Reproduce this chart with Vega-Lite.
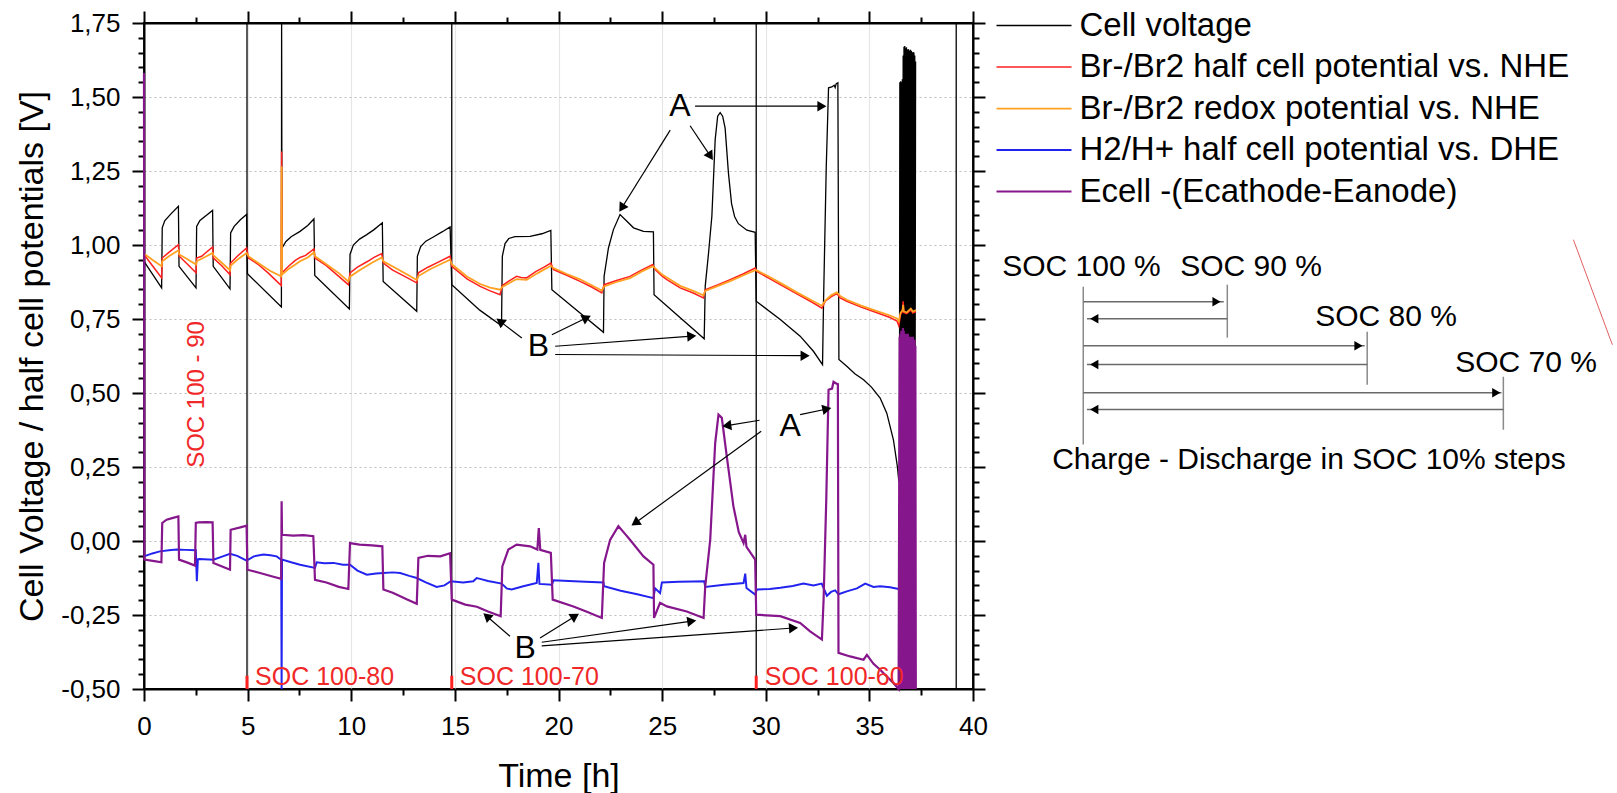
{
  "$schema": "https://vega.github.io/schema/vega-lite/v6.json",
  "width": 829,
  "height": 666,
  "autosize": "none",
  "padding": {"left": 144, "top": 23, "right": 644, "bottom": 104},
  "background": "white",
  "config": {
    "font": "Liberation Sans",
    "view": {"stroke": "black", "strokeWidth": 2},
    "axis": {"labelFont": "Liberation Sans", "titleFont": "Liberation Sans", "labelColor": "black", "titleColor": "black", "titleFontWeight": "normal"}
  },
  "resolve": {"axis": {"x": "independent", "y": "independent"}},
  "datasets": {
    "series": [
      {"s":"Cell voltage","t":0,"v":0.945},{"s":"Cell voltage","t":0.85,"v":0.855},{"s":"Cell voltage","t":0.88,"v":1.058},{"s":"Cell voltage","t":1.0,"v":1.082},{"s":"Cell voltage","t":1.3,"v":1.105},{"s":"Cell voltage","t":1.66,"v":1.131},{"s":"Cell voltage","t":1.69,"v":0.928},{"s":"Cell voltage","t":2.51,"v":0.855},{"s":"Cell voltage","t":2.54,"v":1.063},{"s":"Cell voltage","t":2.7,"v":1.083},{"s":"Cell voltage","t":3.0,"v":1.1},{"s":"Cell voltage","t":3.31,"v":1.117},{"s":"Cell voltage","t":3.34,"v":0.928},{"s":"Cell voltage","t":4.15,"v":0.852},{"s":"Cell voltage","t":4.18,"v":1.041},{"s":"Cell voltage","t":4.35,"v":1.063},{"s":"Cell voltage","t":4.65,"v":1.085},{"s":"Cell voltage","t":4.95,"v":1.103},{"s":"Cell voltage","t":4.99,"v":0.903},{"s":"Cell voltage","t":6.63,"v":0.791},{"s":"Cell voltage","t":6.64,"v":1.75},{"s":"Cell voltage","t":6.66,"v":0.99},{"s":"Cell voltage","t":6.85,"v":1.012},{"s":"Cell voltage","t":7.1,"v":1.028},{"s":"Cell voltage","t":7.53,"v":1.046},{"s":"Cell voltage","t":7.9,"v":1.066},{"s":"Cell voltage","t":8.2,"v":1.088},{"s":"Cell voltage","t":8.24,"v":0.897},{"s":"Cell voltage","t":9.91,"v":0.784},{"s":"Cell voltage","t":9.94,"v":0.968},{"s":"Cell voltage","t":10.1,"v":1.0},{"s":"Cell voltage","t":10.4,"v":1.02},{"s":"Cell voltage","t":10.75,"v":1.035},{"s":"Cell voltage","t":11.1,"v":1.052},{"s":"Cell voltage","t":11.5,"v":1.075},{"s":"Cell voltage","t":11.54,"v":0.877},{"s":"Cell voltage","t":13.16,"v":0.776},{"s":"Cell voltage","t":13.19,"v":0.962},{"s":"Cell voltage","t":13.35,"v":0.995},{"s":"Cell voltage","t":13.6,"v":1.013},{"s":"Cell voltage","t":13.96,"v":1.027},{"s":"Cell voltage","t":14.4,"v":1.045},{"s":"Cell voltage","t":14.77,"v":1.061},{"s":"Cell voltage","t":14.85,"v":0.866},{"s":"Cell voltage","t":16.2,"v":0.78},{"s":"Cell voltage","t":17.25,"v":0.727},{"s":"Cell voltage","t":17.29,"v":0.962},{"s":"Cell voltage","t":17.42,"v":1.005},{"s":"Cell voltage","t":17.6,"v":1.022},{"s":"Cell voltage","t":17.9,"v":1.028},{"s":"Cell voltage","t":18.63,"v":1.029},{"s":"Cell voltage","t":19.2,"v":1.038},{"s":"Cell voltage","t":19.63,"v":1.049},{"s":"Cell voltage","t":19.68,"v":0.849},{"s":"Cell voltage","t":22.17,"v":0.705},{"s":"Cell voltage","t":22.2,"v":0.894},{"s":"Cell voltage","t":22.41,"v":0.99},{"s":"Cell voltage","t":22.65,"v":1.052},{"s":"Cell voltage","t":22.97,"v":1.103},{"s":"Cell voltage","t":23.3,"v":1.08},{"s":"Cell voltage","t":23.62,"v":1.058},{"s":"Cell voltage","t":24.1,"v":1.046},{"s":"Cell voltage","t":24.58,"v":1.044},{"s":"Cell voltage","t":24.61,"v":0.832},{"s":"Cell voltage","t":27.03,"v":0.683},{"s":"Cell voltage","t":27.08,"v":0.861},{"s":"Cell voltage","t":27.24,"v":0.973},{"s":"Cell voltage","t":27.4,"v":1.097},{"s":"Cell voltage","t":27.56,"v":1.356},{"s":"Cell voltage","t":27.68,"v":1.435},{"s":"Cell voltage","t":27.8,"v":1.447},{"s":"Cell voltage","t":27.92,"v":1.435},{"s":"Cell voltage","t":28.04,"v":1.395},{"s":"Cell voltage","t":28.2,"v":1.243},{"s":"Cell voltage","t":28.35,"v":1.14},{"s":"Cell voltage","t":28.5,"v":1.095},{"s":"Cell voltage","t":28.68,"v":1.072},{"s":"Cell voltage","t":29.09,"v":1.05},{"s":"Cell voltage","t":29.49,"v":1.043},{"s":"Cell voltage","t":29.54,"v":0.81},{"s":"Cell voltage","t":30.7,"v":0.748},{"s":"Cell voltage","t":31.66,"v":0.692},{"s":"Cell voltage","t":32.3,"v":0.641},{"s":"Cell voltage","t":32.74,"v":0.596},{"s":"Cell voltage","t":32.79,"v":0.816},{"s":"Cell voltage","t":32.92,"v":1.266},{"s":"Cell voltage","t":33.03,"v":1.531},{"s":"Cell voltage","t":33.19,"v":1.534},{"s":"Cell voltage","t":33.3,"v":1.54},{"s":"Cell voltage","t":33.35,"v":1.532},{"s":"Cell voltage","t":33.4,"v":1.545},{"s":"Cell voltage","t":33.48,"v":1.548},{"s":"Cell voltage","t":33.53,"v":0.613},{"s":"Cell voltage","t":33.91,"v":0.59},{"s":"Cell voltage","t":34.3,"v":0.565},{"s":"Cell voltage","t":34.72,"v":0.545},{"s":"Cell voltage","t":35.1,"v":0.52},{"s":"Cell voltage","t":35.52,"v":0.483},{"s":"Cell voltage","t":35.84,"v":0.432},{"s":"Cell voltage","t":36.16,"v":0.342},{"s":"Cell voltage","t":36.35,"v":0.252},{"s":"Cell voltage","t":36.42,"v":0.202},
      {"s":"Cell voltage","t":36.45,"v":0.2},{"s":"Cell voltage","t":36.47,"v":1.55},{"s":"Cell voltage","t":36.49,"v":0.26},{"s":"Cell voltage","t":36.51,"v":1.553},{"s":"Cell voltage","t":36.53,"v":0.3},{"s":"Cell voltage","t":36.55,"v":1.55},{"s":"Cell voltage","t":36.57,"v":0.35},{"s":"Cell voltage","t":36.59,"v":1.56},{"s":"Cell voltage","t":36.61,"v":0.4},{"s":"Cell voltage","t":36.63,"v":1.64},{"s":"Cell voltage","t":36.65,"v":0.45},{"s":"Cell voltage","t":36.67,"v":1.67},{"s":"Cell voltage","t":36.69,"v":0.5},{"s":"Cell voltage","t":36.71,"v":1.672},{"s":"Cell voltage","t":36.73,"v":0.5},{"s":"Cell voltage","t":36.75,"v":1.665},{"s":"Cell voltage","t":36.77,"v":0.55},{"s":"Cell voltage","t":36.79,"v":1.668},{"s":"Cell voltage","t":36.81,"v":0.5},{"s":"Cell voltage","t":36.83,"v":1.66},{"s":"Cell voltage","t":36.85,"v":0.55},{"s":"Cell voltage","t":36.87,"v":1.662},{"s":"Cell voltage","t":36.89,"v":0.5},{"s":"Cell voltage","t":36.91,"v":1.66},{"s":"Cell voltage","t":36.93,"v":0.55},{"s":"Cell voltage","t":36.95,"v":1.655},{"s":"Cell voltage","t":36.97,"v":0.5},{"s":"Cell voltage","t":36.99,"v":1.66},{"s":"Cell voltage","t":37.01,"v":0.55},{"s":"Cell voltage","t":37.03,"v":1.655},{"s":"Cell voltage","t":37.05,"v":0.5},{"s":"Cell voltage","t":37.07,"v":1.65},{"s":"Cell voltage","t":37.09,"v":0.55},{"s":"Cell voltage","t":37.11,"v":1.652},{"s":"Cell voltage","t":37.13,"v":0.6},{"s":"Cell voltage","t":37.15,"v":1.65},{"s":"Cell voltage","t":37.17,"v":0.6},{"s":"Cell voltage","t":37.19,"v":1.64},{"s":"Cell voltage","t":37.21,"v":0.65},{"s":"Cell voltage","t":37.23,"v":1.62},

      {"s":"Br-/Br2 half cell potential vs. NHE","t":0,"v":0.968},{"s":"Br-/Br2 half cell potential vs. NHE","t":0.3,"v":0.94},{"s":"Br-/Br2 half cell potential vs. NHE","t":0.6,"v":0.912},{"s":"Br-/Br2 half cell potential vs. NHE","t":0.85,"v":0.889},{"s":"Br-/Br2 half cell potential vs. NHE","t":0.88,"v":0.956},{"s":"Br-/Br2 half cell potential vs. NHE","t":1.2,"v":0.975},{"s":"Br-/Br2 half cell potential vs. NHE","t":1.66,"v":1.001},{"s":"Br-/Br2 half cell potential vs. NHE","t":1.7,"v":0.962},{"s":"Br-/Br2 half cell potential vs. NHE","t":2.1,"v":0.935},{"s":"Br-/Br2 half cell potential vs. NHE","t":2.51,"v":0.906},{"s":"Br-/Br2 half cell potential vs. NHE","t":2.54,"v":0.956},{"s":"Br-/Br2 half cell potential vs. NHE","t":2.78,"v":0.962},{"s":"Br-/Br2 half cell potential vs. NHE","t":3.05,"v":0.978},{"s":"Br-/Br2 half cell potential vs. NHE","t":3.31,"v":0.993},{"s":"Br-/Br2 half cell potential vs. NHE","t":3.35,"v":0.956},{"s":"Br-/Br2 half cell potential vs. NHE","t":3.75,"v":0.93},{"s":"Br-/Br2 half cell potential vs. NHE","t":4.15,"v":0.9},{"s":"Br-/Br2 half cell potential vs. NHE","t":4.18,"v":0.939},{"s":"Br-/Br2 half cell potential vs. NHE","t":4.5,"v":0.962},{"s":"Br-/Br2 half cell potential vs. NHE","t":4.95,"v":0.99},{"s":"Br-/Br2 half cell potential vs. NHE","t":5.04,"v":0.956},{"s":"Br-/Br2 half cell potential vs. NHE","t":5.5,"v":0.935},{"s":"Br-/Br2 half cell potential vs. NHE","t":6.0,"v":0.905},{"s":"Br-/Br2 half cell potential vs. NHE","t":6.4,"v":0.878},{"s":"Br-/Br2 half cell potential vs. NHE","t":6.62,"v":0.863},{"s":"Br-/Br2 half cell potential vs. NHE","t":6.64,"v":1.316},{"s":"Br-/Br2 half cell potential vs. NHE","t":6.66,"v":0.906},{"s":"Br-/Br2 half cell potential vs. NHE","t":7.0,"v":0.93},{"s":"Br-/Br2 half cell potential vs. NHE","t":7.3,"v":0.948},{"s":"Br-/Br2 half cell potential vs. NHE","t":7.53,"v":0.958},{"s":"Br-/Br2 half cell potential vs. NHE","t":7.8,"v":0.965},{"s":"Br-/Br2 half cell potential vs. NHE","t":8.2,"v":0.987},{"s":"Br-/Br2 half cell potential vs. NHE","t":8.25,"v":0.956},{"s":"Br-/Br2 half cell potential vs. NHE","t":8.8,"v":0.93},{"s":"Br-/Br2 half cell potential vs. NHE","t":9.3,"v":0.9},{"s":"Br-/Br2 half cell potential vs. NHE","t":9.86,"v":0.866},{"s":"Br-/Br2 half cell potential vs. NHE","t":9.94,"v":0.906},{"s":"Br-/Br2 half cell potential vs. NHE","t":10.3,"v":0.925},{"s":"Br-/Br2 half cell potential vs. NHE","t":10.8,"v":0.945},{"s":"Br-/Br2 half cell potential vs. NHE","t":11.1,"v":0.958},{"s":"Br-/Br2 half cell potential vs. NHE","t":11.47,"v":0.971},{"s":"Br-/Br2 half cell potential vs. NHE","t":11.55,"v":0.939},{"s":"Br-/Br2 half cell potential vs. NHE","t":12.0,"v":0.915},{"s":"Br-/Br2 half cell potential vs. NHE","t":12.6,"v":0.893},{"s":"Br-/Br2 half cell potential vs. NHE","t":13.16,"v":0.872},{"s":"Br-/Br2 half cell potential vs. NHE","t":13.24,"v":0.906},{"s":"Br-/Br2 half cell potential vs. NHE","t":13.7,"v":0.925},{"s":"Br-/Br2 half cell potential vs. NHE","t":14.2,"v":0.942},{"s":"Br-/Br2 half cell potential vs. NHE","t":14.77,"v":0.962},{"s":"Br-/Br2 half cell potential vs. NHE","t":14.85,"v":0.928},{"s":"Br-/Br2 half cell potential vs. NHE","t":15.6,"v":0.885},{"s":"Br-/Br2 half cell potential vs. NHE","t":16.22,"v":0.86},{"s":"Br-/Br2 half cell potential vs. NHE","t":16.7,"v":0.845},{"s":"Br-/Br2 half cell potential vs. NHE","t":17.18,"v":0.832},{"s":"Br-/Br2 half cell potential vs. NHE","t":17.29,"v":0.863},{"s":"Br-/Br2 half cell potential vs. NHE","t":17.6,"v":0.878},{"s":"Br-/Br2 half cell potential vs. NHE","t":17.98,"v":0.894},{"s":"Br-/Br2 half cell potential vs. NHE","t":18.2,"v":0.89},{"s":"Br-/Br2 half cell potential vs. NHE","t":18.46,"v":0.889},{"s":"Br-/Br2 half cell potential vs. NHE","t":18.9,"v":0.91},{"s":"Br-/Br2 half cell potential vs. NHE","t":19.3,"v":0.925},{"s":"Br-/Br2 half cell potential vs. NHE","t":19.63,"v":0.939},{"s":"Br-/Br2 half cell potential vs. NHE","t":19.76,"v":0.917},{"s":"Br-/Br2 half cell potential vs. NHE","t":20.4,"v":0.898},{"s":"Br-/Br2 half cell potential vs. NHE","t":21.04,"v":0.877},{"s":"Br-/Br2 half cell potential vs. NHE","t":21.6,"v":0.858},{"s":"Br-/Br2 half cell potential vs. NHE","t":22.09,"v":0.838},{"s":"Br-/Br2 half cell potential vs. NHE","t":22.2,"v":0.866},{"s":"Br-/Br2 half cell potential vs. NHE","t":22.8,"v":0.88},{"s":"Br-/Br2 half cell potential vs. NHE","t":23.45,"v":0.894},{"s":"Br-/Br2 half cell potential vs. NHE","t":24.0,"v":0.915},{"s":"Br-/Br2 half cell potential vs. NHE","t":24.55,"v":0.934},{"s":"Br-/Br2 half cell potential vs. NHE","t":24.66,"v":0.917},{"s":"Br-/Br2 half cell potential vs. NHE","t":25.0,"v":0.895},{"s":"Br-/Br2 half cell potential vs. NHE","t":25.23,"v":0.883},{"s":"Br-/Br2 half cell potential vs. NHE","t":25.87,"v":0.855},{"s":"Br-/Br2 half cell potential vs. NHE","t":26.5,"v":0.838},{"s":"Br-/Br2 half cell potential vs. NHE","t":26.99,"v":0.821},{"s":"Br-/Br2 half cell potential vs. NHE","t":27.08,"v":0.849},{"s":"Br-/Br2 half cell potential vs. NHE","t":27.7,"v":0.866},{"s":"Br-/Br2 half cell potential vs. NHE","t":28.28,"v":0.883},{"s":"Br-/Br2 half cell potential vs. NHE","t":28.9,"v":0.902},{"s":"Br-/Br2 half cell potential vs. NHE","t":29.49,"v":0.922},{"s":"Br-/Br2 half cell potential vs. NHE","t":29.57,"v":0.911},{"s":"Br-/Br2 half cell potential vs. NHE","t":30.1,"v":0.89},{"s":"Br-/Br2 half cell potential vs. NHE","t":30.7,"v":0.866},{"s":"Br-/Br2 half cell potential vs. NHE","t":31.5,"v":0.835},{"s":"Br-/Br2 half cell potential vs. NHE","t":32.3,"v":0.804},{"s":"Br-/Br2 half cell potential vs. NHE","t":32.71,"v":0.787},{"s":"Br-/Br2 half cell potential vs. NHE","t":32.87,"v":0.81},{"s":"Br-/Br2 half cell potential vs. NHE","t":33.15,"v":0.825},{"s":"Br-/Br2 half cell potential vs. NHE","t":33.43,"v":0.836},{"s":"Br-/Br2 half cell potential vs. NHE","t":33.59,"v":0.821},{"s":"Br-/Br2 half cell potential vs. NHE","t":33.91,"v":0.81},{"s":"Br-/Br2 half cell potential vs. NHE","t":34.6,"v":0.79},{"s":"Br-/Br2 half cell potential vs. NHE","t":35.4,"v":0.77},{"s":"Br-/Br2 half cell potential vs. NHE","t":36.0,"v":0.755},{"s":"Br-/Br2 half cell potential vs. NHE","t":36.33,"v":0.743},{"s":"Br-/Br2 half cell potential vs. NHE","t":36.42,"v":0.727},{"s":"Br-/Br2 half cell potential vs. NHE","t":36.5,"v":0.765},{"s":"Br-/Br2 half cell potential vs. NHE","t":36.6,"v":0.775},{"s":"Br-/Br2 half cell potential vs. NHE","t":36.63,"v":0.81},{"s":"Br-/Br2 half cell potential vs. NHE","t":36.66,"v":0.772},{"s":"Br-/Br2 half cell potential vs. NHE","t":36.8,"v":0.768},{"s":"Br-/Br2 half cell potential vs. NHE","t":37.0,"v":0.78},{"s":"Br-/Br2 half cell potential vs. NHE","t":37.1,"v":0.77},{"s":"Br-/Br2 half cell potential vs. NHE","t":37.25,"v":0.775},

      {"s":"Br-/Br2 redox potential vs. NHE","t":0,"v":0.971},{"s":"Br-/Br2 redox potential vs. NHE","t":0.4,"v":0.95},{"s":"Br-/Br2 redox potential vs. NHE","t":0.85,"v":0.928},{"s":"Br-/Br2 redox potential vs. NHE","t":0.88,"v":0.945},{"s":"Br-/Br2 redox potential vs. NHE","t":1.2,"v":0.962},{"s":"Br-/Br2 redox potential vs. NHE","t":1.66,"v":0.982},{"s":"Br-/Br2 redox potential vs. NHE","t":1.7,"v":0.968},{"s":"Br-/Br2 redox potential vs. NHE","t":2.1,"v":0.952},{"s":"Br-/Br2 redox potential vs. NHE","t":2.51,"v":0.934},{"s":"Br-/Br2 redox potential vs. NHE","t":2.54,"v":0.945},{"s":"Br-/Br2 redox potential vs. NHE","t":2.9,"v":0.958},{"s":"Br-/Br2 redox potential vs. NHE","t":3.31,"v":0.973},{"s":"Br-/Br2 redox potential vs. NHE","t":3.35,"v":0.965},{"s":"Br-/Br2 redox potential vs. NHE","t":3.75,"v":0.94},{"s":"Br-/Br2 redox potential vs. NHE","t":4.15,"v":0.915},{"s":"Br-/Br2 redox potential vs. NHE","t":4.18,"v":0.93},{"s":"Br-/Br2 redox potential vs. NHE","t":4.5,"v":0.95},{"s":"Br-/Br2 redox potential vs. NHE","t":4.95,"v":0.973},{"s":"Br-/Br2 redox potential vs. NHE","t":5.04,"v":0.962},{"s":"Br-/Br2 redox potential vs. NHE","t":5.6,"v":0.935},{"s":"Br-/Br2 redox potential vs. NHE","t":6.1,"v":0.912},{"s":"Br-/Br2 redox potential vs. NHE","t":6.62,"v":0.894},{"s":"Br-/Br2 redox potential vs. NHE","t":6.64,"v":1.266},{"s":"Br-/Br2 redox potential vs. NHE","t":6.66,"v":0.9},{"s":"Br-/Br2 redox potential vs. NHE","t":7.0,"v":0.92},{"s":"Br-/Br2 redox potential vs. NHE","t":7.53,"v":0.945},{"s":"Br-/Br2 redox potential vs. NHE","t":7.9,"v":0.958},{"s":"Br-/Br2 redox potential vs. NHE","t":8.2,"v":0.975},{"s":"Br-/Br2 redox potential vs. NHE","t":8.25,"v":0.962},{"s":"Br-/Br2 redox potential vs. NHE","t":8.8,"v":0.935},{"s":"Br-/Br2 redox potential vs. NHE","t":9.4,"v":0.905},{"s":"Br-/Br2 redox potential vs. NHE","t":9.86,"v":0.877},{"s":"Br-/Br2 redox potential vs. NHE","t":9.94,"v":0.893},{"s":"Br-/Br2 redox potential vs. NHE","t":10.4,"v":0.915},{"s":"Br-/Br2 redox potential vs. NHE","t":11.0,"v":0.94},{"s":"Br-/Br2 redox potential vs. NHE","t":11.47,"v":0.958},{"s":"Br-/Br2 redox potential vs. NHE","t":11.55,"v":0.945},{"s":"Br-/Br2 redox potential vs. NHE","t":12.2,"v":0.92},{"s":"Br-/Br2 redox potential vs. NHE","t":12.7,"v":0.9},{"s":"Br-/Br2 redox potential vs. NHE","t":13.16,"v":0.882},{"s":"Br-/Br2 redox potential vs. NHE","t":13.24,"v":0.895},{"s":"Br-/Br2 redox potential vs. NHE","t":13.8,"v":0.918},{"s":"Br-/Br2 redox potential vs. NHE","t":14.3,"v":0.935},{"s":"Br-/Br2 redox potential vs. NHE","t":14.77,"v":0.95},{"s":"Br-/Br2 redox potential vs. NHE","t":14.85,"v":0.935},{"s":"Br-/Br2 redox potential vs. NHE","t":15.6,"v":0.893},{"s":"Br-/Br2 redox potential vs. NHE","t":16.22,"v":0.868},{"s":"Br-/Br2 redox potential vs. NHE","t":16.7,"v":0.856},{"s":"Br-/Br2 redox potential vs. NHE","t":17.18,"v":0.849},{"s":"Br-/Br2 redox potential vs. NHE","t":17.29,"v":0.858},{"s":"Br-/Br2 redox potential vs. NHE","t":17.98,"v":0.885},{"s":"Br-/Br2 redox potential vs. NHE","t":18.46,"v":0.882},{"s":"Br-/Br2 redox potential vs. NHE","t":19.0,"v":0.905},{"s":"Br-/Br2 redox potential vs. NHE","t":19.63,"v":0.93},{"s":"Br-/Br2 redox potential vs. NHE","t":19.76,"v":0.922},{"s":"Br-/Br2 redox potential vs. NHE","t":20.4,"v":0.902},{"s":"Br-/Br2 redox potential vs. NHE","t":21.04,"v":0.884},{"s":"Br-/Br2 redox potential vs. NHE","t":21.6,"v":0.864},{"s":"Br-/Br2 redox potential vs. NHE","t":22.09,"v":0.846},{"s":"Br-/Br2 redox potential vs. NHE","t":22.2,"v":0.86},{"s":"Br-/Br2 redox potential vs. NHE","t":22.8,"v":0.875},{"s":"Br-/Br2 redox potential vs. NHE","t":23.45,"v":0.888},{"s":"Br-/Br2 redox potential vs. NHE","t":24.0,"v":0.91},{"s":"Br-/Br2 redox potential vs. NHE","t":24.55,"v":0.928},{"s":"Br-/Br2 redox potential vs. NHE","t":24.66,"v":0.922},{"s":"Br-/Br2 redox potential vs. NHE","t":25.0,"v":0.9},{"s":"Br-/Br2 redox potential vs. NHE","t":25.23,"v":0.89},{"s":"Br-/Br2 redox potential vs. NHE","t":25.87,"v":0.862},{"s":"Br-/Br2 redox potential vs. NHE","t":26.5,"v":0.845},{"s":"Br-/Br2 redox potential vs. NHE","t":26.99,"v":0.83},{"s":"Br-/Br2 redox potential vs. NHE","t":27.08,"v":0.845},{"s":"Br-/Br2 redox potential vs. NHE","t":27.7,"v":0.862},{"s":"Br-/Br2 redox potential vs. NHE","t":28.28,"v":0.878},{"s":"Br-/Br2 redox potential vs. NHE","t":28.9,"v":0.897},{"s":"Br-/Br2 redox potential vs. NHE","t":29.49,"v":0.915},{"s":"Br-/Br2 redox potential vs. NHE","t":29.57,"v":0.914},{"s":"Br-/Br2 redox potential vs. NHE","t":30.1,"v":0.895},{"s":"Br-/Br2 redox potential vs. NHE","t":30.7,"v":0.872},{"s":"Br-/Br2 redox potential vs. NHE","t":31.5,"v":0.84},{"s":"Br-/Br2 redox potential vs. NHE","t":32.3,"v":0.81},{"s":"Br-/Br2 redox potential vs. NHE","t":32.71,"v":0.795},{"s":"Br-/Br2 redox potential vs. NHE","t":32.87,"v":0.812},{"s":"Br-/Br2 redox potential vs. NHE","t":33.15,"v":0.83},{"s":"Br-/Br2 redox potential vs. NHE","t":33.43,"v":0.84},{"s":"Br-/Br2 redox potential vs. NHE","t":33.59,"v":0.828},{"s":"Br-/Br2 redox potential vs. NHE","t":33.91,"v":0.815},{"s":"Br-/Br2 redox potential vs. NHE","t":34.6,"v":0.795},{"s":"Br-/Br2 redox potential vs. NHE","t":35.4,"v":0.776},{"s":"Br-/Br2 redox potential vs. NHE","t":36.0,"v":0.762},{"s":"Br-/Br2 redox potential vs. NHE","t":36.33,"v":0.752},{"s":"Br-/Br2 redox potential vs. NHE","t":36.42,"v":0.742},{"s":"Br-/Br2 redox potential vs. NHE","t":36.5,"v":0.77},{"s":"Br-/Br2 redox potential vs. NHE","t":36.6,"v":0.78},{"s":"Br-/Br2 redox potential vs. NHE","t":36.63,"v":0.798},{"s":"Br-/Br2 redox potential vs. NHE","t":36.66,"v":0.776},{"s":"Br-/Br2 redox potential vs. NHE","t":36.8,"v":0.772},{"s":"Br-/Br2 redox potential vs. NHE","t":37.0,"v":0.785},{"s":"Br-/Br2 redox potential vs. NHE","t":37.1,"v":0.775},{"s":"Br-/Br2 redox potential vs. NHE","t":37.25,"v":0.78},

      {"s":"H2/H+ half cell potential vs. DHE","t":0,"v":-0.052},{"s":"H2/H+ half cell potential vs. DHE","t":0.4,"v":-0.042},{"s":"H2/H+ half cell potential vs. DHE","t":0.77,"v":-0.035},{"s":"H2/H+ half cell potential vs. DHE","t":1.2,"v":-0.031},{"s":"H2/H+ half cell potential vs. DHE","t":1.58,"v":-0.029},{"s":"H2/H+ half cell potential vs. DHE","t":2.0,"v":-0.03},{"s":"H2/H+ half cell potential vs. DHE","t":2.5,"v":-0.031},{"s":"H2/H+ half cell potential vs. DHE","t":2.55,"v":-0.136},{"s":"H2/H+ half cell potential vs. DHE","t":2.6,"v":-0.062},{"s":"H2/H+ half cell potential vs. DHE","t":2.67,"v":-0.061},{"s":"H2/H+ half cell potential vs. DHE","t":3.35,"v":-0.063},{"s":"H2/H+ half cell potential vs. DHE","t":3.8,"v":-0.052},{"s":"H2/H+ half cell potential vs. DHE","t":4.15,"v":-0.043},{"s":"H2/H+ half cell potential vs. DHE","t":4.5,"v":-0.05},{"s":"H2/H+ half cell potential vs. DHE","t":4.95,"v":-0.066},{"s":"H2/H+ half cell potential vs. DHE","t":5.3,"v":-0.052},{"s":"H2/H+ half cell potential vs. DHE","t":5.76,"v":-0.046},{"s":"H2/H+ half cell potential vs. DHE","t":6.1,"v":-0.048},{"s":"H2/H+ half cell potential vs. DHE","t":6.4,"v":-0.052},{"s":"H2/H+ half cell potential vs. DHE","t":6.62,"v":-0.063},{"s":"H2/H+ half cell potential vs. DHE","t":6.64,"v":-0.5},{"s":"H2/H+ half cell potential vs. DHE","t":6.66,"v":-0.063},{"s":"H2/H+ half cell potential vs. DHE","t":7.1,"v":-0.072},{"s":"H2/H+ half cell potential vs. DHE","t":7.53,"v":-0.08},{"s":"H2/H+ half cell potential vs. DHE","t":8.25,"v":-0.091},{"s":"H2/H+ half cell potential vs. DHE","t":8.33,"v":-0.072},{"s":"H2/H+ half cell potential vs. DHE","t":8.7,"v":-0.075},{"s":"H2/H+ half cell potential vs. DHE","t":9.14,"v":-0.074},{"s":"H2/H+ half cell potential vs. DHE","t":9.6,"v":-0.08},{"s":"H2/H+ half cell potential vs. DHE","t":9.94,"v":-0.08},{"s":"H2/H+ half cell potential vs. DHE","t":10.3,"v":-0.1},{"s":"H2/H+ half cell potential vs. DHE","t":10.75,"v":-0.114},{"s":"H2/H+ half cell potential vs. DHE","t":11.2,"v":-0.11},{"s":"H2/H+ half cell potential vs. DHE","t":11.55,"v":-0.108},{"s":"H2/H+ half cell potential vs. DHE","t":12.0,"v":-0.106},{"s":"H2/H+ half cell potential vs. DHE","t":12.36,"v":-0.108},{"s":"H2/H+ half cell potential vs. DHE","t":12.8,"v":-0.118},{"s":"H2/H+ half cell potential vs. DHE","t":13.16,"v":-0.125},{"s":"H2/H+ half cell potential vs. DHE","t":13.6,"v":-0.14},{"s":"H2/H+ half cell potential vs. DHE","t":14.12,"v":-0.155},{"s":"H2/H+ half cell potential vs. DHE","t":14.5,"v":-0.15},{"s":"H2/H+ half cell potential vs. DHE","t":14.8,"v":-0.136},{"s":"H2/H+ half cell potential vs. DHE","t":15.4,"v":-0.14},{"s":"H2/H+ half cell potential vs. DHE","t":15.89,"v":-0.136},{"s":"H2/H+ half cell potential vs. DHE","t":16.05,"v":-0.125},{"s":"H2/H+ half cell potential vs. DHE","t":16.22,"v":-0.128},{"s":"H2/H+ half cell potential vs. DHE","t":16.6,"v":-0.135},{"s":"H2/H+ half cell potential vs. DHE","t":17.26,"v":-0.144},{"s":"H2/H+ half cell potential vs. DHE","t":17.5,"v":-0.16},{"s":"H2/H+ half cell potential vs. DHE","t":17.74,"v":-0.164},{"s":"H2/H+ half cell potential vs. DHE","t":18.3,"v":-0.153},{"s":"H2/H+ half cell potential vs. DHE","t":18.95,"v":-0.142},{"s":"H2/H+ half cell potential vs. DHE","t":19.03,"v":-0.074},{"s":"H2/H+ half cell potential vs. DHE","t":19.08,"v":-0.145},{"s":"H2/H+ half cell potential vs. DHE","t":19.68,"v":-0.148},{"s":"H2/H+ half cell potential vs. DHE","t":19.76,"v":-0.133},{"s":"H2/H+ half cell potential vs. DHE","t":20.5,"v":-0.135},{"s":"H2/H+ half cell potential vs. DHE","t":21.3,"v":-0.138},{"s":"H2/H+ half cell potential vs. DHE","t":22.17,"v":-0.14},{"s":"H2/H+ half cell potential vs. DHE","t":22.2,"v":-0.153},{"s":"H2/H+ half cell potential vs. DHE","t":23.0,"v":-0.168},{"s":"H2/H+ half cell potential vs. DHE","t":23.8,"v":-0.18},{"s":"H2/H+ half cell potential vs. DHE","t":24.58,"v":-0.193},{"s":"H2/H+ half cell potential vs. DHE","t":24.66,"v":-0.16},{"s":"H2/H+ half cell potential vs. DHE","t":24.9,"v":-0.176},{"s":"H2/H+ half cell potential vs. DHE","t":24.99,"v":-0.14},{"s":"H2/H+ half cell potential vs. DHE","t":25.8,"v":-0.138},{"s":"H2/H+ half cell potential vs. DHE","t":26.5,"v":-0.137},{"s":"H2/H+ half cell potential vs. DHE","t":27.03,"v":-0.136},{"s":"H2/H+ half cell potential vs. DHE","t":27.08,"v":-0.155},{"s":"H2/H+ half cell potential vs. DHE","t":28.0,"v":-0.148},{"s":"H2/H+ half cell potential vs. DHE","t":28.93,"v":-0.142},{"s":"H2/H+ half cell potential vs. DHE","t":29.01,"v":-0.11},{"s":"H2/H+ half cell potential vs. DHE","t":29.07,"v":-0.159},{"s":"H2/H+ half cell potential vs. DHE","t":29.49,"v":-0.181},{"s":"H2/H+ half cell potential vs. DHE","t":29.57,"v":-0.164},{"s":"H2/H+ half cell potential vs. DHE","t":30.2,"v":-0.162},{"s":"H2/H+ half cell potential vs. DHE","t":30.7,"v":-0.158},{"s":"H2/H+ half cell potential vs. DHE","t":31.3,"v":-0.152},{"s":"H2/H+ half cell potential vs. DHE","t":31.82,"v":-0.144},{"s":"H2/H+ half cell potential vs. DHE","t":32.3,"v":-0.15},{"s":"H2/H+ half cell potential vs. DHE","t":32.7,"v":-0.144},{"s":"H2/H+ half cell potential vs. DHE","t":32.95,"v":-0.185},{"s":"H2/H+ half cell potential vs. DHE","t":33.15,"v":-0.172},{"s":"H2/H+ half cell potential vs. DHE","t":33.35,"v":-0.167},{"s":"H2/H+ half cell potential vs. DHE","t":33.51,"v":-0.18},{"s":"H2/H+ half cell potential vs. DHE","t":33.91,"v":-0.17},{"s":"H2/H+ half cell potential vs. DHE","t":34.4,"v":-0.16},{"s":"H2/H+ half cell potential vs. DHE","t":34.8,"v":-0.144},{"s":"H2/H+ half cell potential vs. DHE","t":35.2,"v":-0.155},{"s":"H2/H+ half cell potential vs. DHE","t":35.52,"v":-0.153},{"s":"H2/H+ half cell potential vs. DHE","t":36.0,"v":-0.156},{"s":"H2/H+ half cell potential vs. DHE","t":36.41,"v":-0.162},

      {"s":"Ecell -(Ecathode-Eanode)","t":0,"v":1.581},{"s":"Ecell -(Ecathode-Eanode)","t":0.02,"v":-0.063},{"s":"Ecell -(Ecathode-Eanode)","t":0.5,"v":-0.068},{"s":"Ecell -(Ecathode-Eanode)","t":0.84,"v":-0.072},{"s":"Ecell -(Ecathode-Eanode)","t":0.88,"v":0.061},{"s":"Ecell -(Ecathode-Eanode)","t":1.09,"v":0.072},{"s":"Ecell -(Ecathode-Eanode)","t":1.4,"v":0.078},{"s":"Ecell -(Ecathode-Eanode)","t":1.66,"v":0.083},{"s":"Ecell -(Ecathode-Eanode)","t":1.69,"v":-0.063},{"s":"Ecell -(Ecathode-Eanode)","t":2.1,"v":-0.073},{"s":"Ecell -(Ecathode-Eanode)","t":2.46,"v":-0.083},{"s":"Ecell -(Ecathode-Eanode)","t":2.5,"v":0.061},{"s":"Ecell -(Ecathode-Eanode)","t":2.62,"v":0.063},{"s":"Ecell -(Ecathode-Eanode)","t":3.0,"v":0.064},{"s":"Ecell -(Ecathode-Eanode)","t":3.31,"v":0.063},{"s":"Ecell -(Ecathode-Eanode)","t":3.35,"v":-0.074},{"s":"Ecell -(Ecathode-Eanode)","t":3.8,"v":-0.087},{"s":"Ecell -(Ecathode-Eanode)","t":4.15,"v":-0.097},{"s":"Ecell -(Ecathode-Eanode)","t":4.18,"v":0.038},{"s":"Ecell -(Ecathode-Eanode)","t":4.6,"v":0.045},{"s":"Ecell -(Ecathode-Eanode)","t":4.95,"v":0.052},{"s":"Ecell -(Ecathode-Eanode)","t":4.99,"v":-0.097},{"s":"Ecell -(Ecathode-Eanode)","t":5.6,"v":-0.108},{"s":"Ecell -(Ecathode-Eanode)","t":6.2,"v":-0.12},{"s":"Ecell -(Ecathode-Eanode)","t":6.62,"v":-0.128},{"s":"Ecell -(Ecathode-Eanode)","t":6.64,"v":0.134},{"s":"Ecell -(Ecathode-Eanode)","t":6.66,"v":0.021},{"s":"Ecell -(Ecathode-Eanode)","t":7.2,"v":0.018},{"s":"Ecell -(Ecathode-Eanode)","t":7.7,"v":0.02},{"s":"Ecell -(Ecathode-Eanode)","t":8.17,"v":0.016},{"s":"Ecell -(Ecathode-Eanode)","t":8.25,"v":-0.131},{"s":"Ecell -(Ecathode-Eanode)","t":8.8,"v":-0.14},{"s":"Ecell -(Ecathode-Eanode)","t":9.4,"v":-0.155},{"s":"Ecell -(Ecathode-Eanode)","t":9.86,"v":-0.162},{"s":"Ecell -(Ecathode-Eanode)","t":9.94,"v":-0.007},{"s":"Ecell -(Ecathode-Eanode)","t":10.4,"v":-0.012},{"s":"Ecell -(Ecathode-Eanode)","t":11.0,"v":-0.015},{"s":"Ecell -(Ecathode-Eanode)","t":11.5,"v":-0.018},{"s":"Ecell -(Ecathode-Eanode)","t":11.55,"v":-0.164},{"s":"Ecell -(Ecathode-Eanode)","t":12.0,"v":-0.175},{"s":"Ecell -(Ecathode-Eanode)","t":12.7,"v":-0.198},{"s":"Ecell -(Ecathode-Eanode)","t":13.16,"v":-0.212},{"s":"Ecell -(Ecathode-Eanode)","t":13.24,"v":-0.057},{"s":"Ecell -(Ecathode-Eanode)","t":13.7,"v":-0.05},{"s":"Ecell -(Ecathode-Eanode)","t":14.3,"v":-0.052},{"s":"Ecell -(Ecathode-Eanode)","t":14.77,"v":-0.041},{"s":"Ecell -(Ecathode-Eanode)","t":14.85,"v":-0.198},{"s":"Ecell -(Ecathode-Eanode)","t":15.5,"v":-0.215},{"s":"Ecell -(Ecathode-Eanode)","t":16.06,"v":-0.222},{"s":"Ecell -(Ecathode-Eanode)","t":16.6,"v":-0.238},{"s":"Ecell -(Ecathode-Eanode)","t":17.21,"v":-0.254},{"s":"Ecell -(Ecathode-Eanode)","t":17.29,"v":-0.086},{"s":"Ecell -(Ecathode-Eanode)","t":17.58,"v":-0.029},{"s":"Ecell -(Ecathode-Eanode)","t":17.98,"v":-0.012},{"s":"Ecell -(Ecathode-Eanode)","t":18.63,"v":-0.018},{"s":"Ecell -(Ecathode-Eanode)","t":18.98,"v":-0.029},{"s":"Ecell -(Ecathode-Eanode)","t":19.05,"v":0.044},{"s":"Ecell -(Ecathode-Eanode)","t":19.12,"v":-0.03},{"s":"Ecell -(Ecathode-Eanode)","t":19.63,"v":-0.04},{"s":"Ecell -(Ecathode-Eanode)","t":19.72,"v":-0.198},{"s":"Ecell -(Ecathode-Eanode)","t":20.72,"v":-0.221},{"s":"Ecell -(Ecathode-Eanode)","t":21.4,"v":-0.24},{"s":"Ecell -(Ecathode-Eanode)","t":22.09,"v":-0.26},{"s":"Ecell -(Ecathode-Eanode)","t":22.2,"v":-0.074},{"s":"Ecell -(Ecathode-Eanode)","t":22.49,"v":0.004},{"s":"Ecell -(Ecathode-Eanode)","t":22.89,"v":0.05},{"s":"Ecell -(Ecathode-Eanode)","t":23.2,"v":0.025},{"s":"Ecell -(Ecathode-Eanode)","t":23.45,"v":0.004},{"s":"Ecell -(Ecathode-Eanode)","t":24.1,"v":-0.052},{"s":"Ecell -(Ecathode-Eanode)","t":24.58,"v":-0.08},{"s":"Ecell -(Ecathode-Eanode)","t":24.61,"v":-0.26},{"s":"Ecell -(Ecathode-Eanode)","t":24.9,"v":-0.209},{"s":"Ecell -(Ecathode-Eanode)","t":25.23,"v":-0.221},{"s":"Ecell -(Ecathode-Eanode)","t":26.19,"v":-0.238},{"s":"Ecell -(Ecathode-Eanode)","t":27.0,"v":-0.26},{"s":"Ecell -(Ecathode-Eanode)","t":27.08,"v":-0.153},{"s":"Ecell -(Ecathode-Eanode)","t":27.32,"v":0.004},{"s":"Ecell -(Ecathode-Eanode)","t":27.56,"v":0.331},{"s":"Ecell -(Ecathode-Eanode)","t":27.72,"v":0.427},{"s":"Ecell -(Ecathode-Eanode)","t":27.88,"v":0.416},{"s":"Ecell -(Ecathode-Eanode)","t":28.12,"v":0.286},{"s":"Ecell -(Ecathode-Eanode)","t":28.44,"v":0.117},{"s":"Ecell -(Ecathode-Eanode)","t":28.7,"v":0.03},{"s":"Ecell -(Ecathode-Eanode)","t":28.93,"v":-0.007},{"s":"Ecell -(Ecathode-Eanode)","t":29.01,"v":0.021},{"s":"Ecell -(Ecathode-Eanode)","t":29.07,"v":-0.02},{"s":"Ecell -(Ecathode-Eanode)","t":29.49,"v":-0.063},{"s":"Ecell -(Ecathode-Eanode)","t":29.54,"v":-0.249},{"s":"Ecell -(Ecathode-Eanode)","t":30.7,"v":-0.254},{"s":"Ecell -(Ecathode-Eanode)","t":31.66,"v":-0.277},{"s":"Ecell -(Ecathode-Eanode)","t":32.14,"v":-0.305},{"s":"Ecell -(Ecathode-Eanode)","t":32.71,"v":-0.333},{"s":"Ecell -(Ecathode-Eanode)","t":32.79,"v":-0.2},{"s":"Ecell -(Ecathode-Eanode)","t":32.92,"v":0.14},{"s":"Ecell -(Ecathode-Eanode)","t":33.03,"v":0.511},{"s":"Ecell -(Ecathode-Eanode)","t":33.2,"v":0.515},{"s":"Ecell -(Ecathode-Eanode)","t":33.27,"v":0.538},{"s":"Ecell -(Ecathode-Eanode)","t":33.4,"v":0.532},{"s":"Ecell -(Ecathode-Eanode)","t":33.48,"v":0.53},{"s":"Ecell -(Ecathode-Eanode)","t":33.51,"v":-0.378},{"s":"Ecell -(Ecathode-Eanode)","t":34.07,"v":-0.39},{"s":"Ecell -(Ecathode-Eanode)","t":34.72,"v":-0.401},{"s":"Ecell -(Ecathode-Eanode)","t":34.88,"v":-0.385},{"s":"Ecell -(Ecathode-Eanode)","t":35.2,"v":-0.415},{"s":"Ecell -(Ecathode-Eanode)","t":35.52,"v":-0.435},{"s":"Ecell -(Ecathode-Eanode)","t":36.16,"v":-0.48},{"s":"Ecell -(Ecathode-Eanode)","t":36.41,"v":-0.5},
      {"s":"Ecell -(Ecathode-Eanode)","t":36.46,"v":0.69},{"s":"Ecell -(Ecathode-Eanode)","t":36.48,"v":-0.5},{"s":"Ecell -(Ecathode-Eanode)","t":36.5,"v":0.7},{"s":"Ecell -(Ecathode-Eanode)","t":36.52,"v":-0.5},{"s":"Ecell -(Ecathode-Eanode)","t":36.54,"v":0.71},{"s":"Ecell -(Ecathode-Eanode)","t":36.56,"v":-0.5},{"s":"Ecell -(Ecathode-Eanode)","t":36.58,"v":0.71},{"s":"Ecell -(Ecathode-Eanode)","t":36.6,"v":-0.5},{"s":"Ecell -(Ecathode-Eanode)","t":36.62,"v":0.72},{"s":"Ecell -(Ecathode-Eanode)","t":36.64,"v":-0.5},{"s":"Ecell -(Ecathode-Eanode)","t":36.66,"v":0.71},{"s":"Ecell -(Ecathode-Eanode)","t":36.68,"v":-0.5},{"s":"Ecell -(Ecathode-Eanode)","t":36.7,"v":0.7},{"s":"Ecell -(Ecathode-Eanode)","t":36.72,"v":-0.5},{"s":"Ecell -(Ecathode-Eanode)","t":36.74,"v":0.7},{"s":"Ecell -(Ecathode-Eanode)","t":36.76,"v":-0.5},{"s":"Ecell -(Ecathode-Eanode)","t":36.78,"v":0.7},{"s":"Ecell -(Ecathode-Eanode)","t":36.8,"v":-0.5},{"s":"Ecell -(Ecathode-Eanode)","t":36.82,"v":0.7},{"s":"Ecell -(Ecathode-Eanode)","t":36.84,"v":-0.5},{"s":"Ecell -(Ecathode-Eanode)","t":36.86,"v":0.7},{"s":"Ecell -(Ecathode-Eanode)","t":36.88,"v":-0.5},{"s":"Ecell -(Ecathode-Eanode)","t":36.9,"v":0.69},{"s":"Ecell -(Ecathode-Eanode)","t":36.92,"v":-0.5},{"s":"Ecell -(Ecathode-Eanode)","t":36.94,"v":0.69},{"s":"Ecell -(Ecathode-Eanode)","t":36.96,"v":-0.5},{"s":"Ecell -(Ecathode-Eanode)","t":36.98,"v":0.69},{"s":"Ecell -(Ecathode-Eanode)","t":37.0,"v":-0.5},{"s":"Ecell -(Ecathode-Eanode)","t":37.02,"v":0.69},{"s":"Ecell -(Ecathode-Eanode)","t":37.04,"v":-0.5},{"s":"Ecell -(Ecathode-Eanode)","t":37.06,"v":0.69},{"s":"Ecell -(Ecathode-Eanode)","t":37.08,"v":-0.5},{"s":"Ecell -(Ecathode-Eanode)","t":37.1,"v":0.69},{"s":"Ecell -(Ecathode-Eanode)","t":37.12,"v":-0.5},{"s":"Ecell -(Ecathode-Eanode)","t":37.14,"v":0.68},{"s":"Ecell -(Ecathode-Eanode)","t":37.16,"v":-0.5},{"s":"Ecell -(Ecathode-Eanode)","t":37.18,"v":0.68},{"s":"Ecell -(Ecathode-Eanode)","t":37.2,"v":-0.5},{"s":"Ecell -(Ecathode-Eanode)","t":37.22,"v":0.66},{"s":"Ecell -(Ecathode-Eanode)","t":37.24,"v":-0.5}
    ],
    "vlines": [{"t": 4.97}, {"t": 14.85}, {"t": 29.54}, {"t": 39.19}],
    "socticks": [{"t": 4.97}, {"t": 14.85}, {"t": 29.54}],
    "soclabels": [
      {"t": 5.36, "v": -0.458, "label": "SOC 100-80"},
      {"t": 15.24, "v": -0.458, "label": "SOC 100-70"},
      {"t": 29.95, "v": -0.458, "label": "SOC 100-60"}
    ],
    "rotlabel": [{"t": 2.56, "v": 0.495, "label": "SOC 100 - 90"}],
    "arrows": [
      {"x1":26.59,"y1":1.469,"x2":32.71,"y2":1.469,"ang":0},
      {"x1":26.35,"y1":1.403,"x2":27.33,"y2":1.3,"ang":56.9},
      {"x1":25.39,"y1":1.388,"x2":23.05,"y2":1.125,"ang":121.9},
      {"x1":18.23,"y1":0.686,"x2":17.18,"y2":0.742,"ang":217.6},
      {"x1":19.68,"y1":0.697,"x2":21.36,"y2":0.754,"ang":-25.5},
      {"x1":19.84,"y1":0.658,"x2":26.43,"y2":0.692,"ang":-4.2},
      {"x1":19.84,"y1":0.63,"x2":31.9,"y2":0.626,"ang":0.2},
      {"x1":29.7,"y1":0.408,"x2":28.12,"y2":0.39,"ang":172.4},
      {"x1":31.66,"y1":0.427,"x2":32.95,"y2":0.446,"ang":-12},
      {"x1":29.78,"y1":0.371,"x2":23.7,"y2":0.061,"ang":145.5},
      {"x1":17.66,"y1":-0.322,"x2":16.54,"y2":-0.254,"ang":220.6},
      {"x1":19.11,"y1":-0.328,"x2":20.8,"y2":-0.254,"ang":-31.8},
      {"x1":19.19,"y1":-0.342,"x2":26.43,"y2":-0.271,"ang":-8},
      {"x1":19.19,"y1":-0.354,"x2":31.34,"y2":-0.294,"ang":-4}
    ],
    "ablabels": [
      {"t": 25.86, "v": 1.469, "label": "A"},
      {"t": 19.03, "v": 0.658, "label": "B"},
      {"t": 31.18, "v": 0.389, "label": "A"},
      {"t": 18.39, "v": -0.361, "label": "B"}
    ],
    "diagtext": [
      {"t": 41.41, "v": 0.927, "label": "SOC 100 %"},
      {"t": 50.0, "v": 0.927, "label": "SOC 90 %"},
      {"t": 56.51, "v": 0.758, "label": "SOC 80 %"},
      {"t": 63.27, "v": 0.602, "label": "SOC 70 %"},
      {"t": 43.82, "v": 0.275, "label": "Charge - Discharge in SOC 10% steps"}
    ],
    "diagvlines": [
      {"t": 45.32, "v1": 0.859, "v2": 0.326},
      {"t": 52.27, "v1": 0.866, "v2": 0.687},
      {"t": 59.02, "v1": 0.707, "v2": 0.528},
      {"t": 65.59, "v1": 0.555, "v2": 0.376}
    ],
    "diagarrows": [
      {"x1": 45.32, "x2": 52.1, "y": 0.808, "hx": 51.75, "ang": 0},
      {"x1": 52.27, "x2": 45.5, "y": 0.751, "hx": 45.85, "ang": 180},
      {"x1": 45.32, "x2": 58.9, "y": 0.66, "hx": 58.6, "ang": 0},
      {"x1": 59.02, "x2": 45.5, "y": 0.596, "hx": 45.85, "ang": 180},
      {"x1": 45.32, "x2": 65.5, "y": 0.501, "hx": 65.25, "ang": 0},
      {"x1": 65.59, "x2": 45.5, "y": 0.444, "hx": 45.85, "ang": 180}
    ],
    "stray": [{"x1": 68.97, "y1": 1.018, "x2": 70.85, "y2": 0.663}]
  },
  "layer": [
    {
      "data": {"name": "vlines"},
      "mark": {"type": "rule", "color": "black", "strokeWidth": 1.3},
      "encoding": {
        "x": {"field": "t", "type": "quantitative", "scale": {"domain": [0, 40], "nice": false, "zero": false}, "axis": null},
        "y": {"datum": -0.5, "type": "quantitative", "scale": {"domain": [-0.5, 1.75], "nice": false, "zero": false}, "axis": null},
        "y2": {"datum": 1.75}
      }
    },
    {
      "data": {"name": "series"},
      "mark": {"type": "line", "interpolate": "linear"},
      "encoding": {
        "x": {"field": "t", "type": "quantitative", "scale": {"domain": [0, 40], "nice": false, "zero": false},
          "axis": {"orient": "bottom", "title": "Time [h]", "titleFontSize": 34, "titlePadding": 20,
            "values": [0,2.5,5,7.5,10,12.5,15,17.5,20,22.5,25,27.5,30,32.5,35,37.5,40],
            "labelExpr": "datum.value % 5 === 0 ? datum.label : ''", "labelFontSize": 26, "labelPadding": 12, "labelFlush": false, "labelOverlap": false, "labelBound": false,
            "domain": true, "domainColor": "black", "domainWidth": 2,
            "ticks": true, "tickColor": "black", "tickWidth": 2, "tickSize": 12,
            "tickDash": {"condition": {"test": "datum.value % 5 === 0", "value": [12, 0]}, "value": [6, 40]},
            "grid": true, "gridWidth": 1.2,
            "gridColor": {"condition": {"test": "datum.value % 5 === 0", "value": "#e6e6e6"}, "value": "rgba(0,0,0,0)"}}},
        "y": {"field": "v", "type": "quantitative", "scale": {"domain": [-0.5, 1.75], "nice": false, "zero": false},
          "axis": {"orient": "left", "title": "Cell Voltage / half cell potentials [V]", "titleFontSize": 34, "titlePadding": 11,
            "values": [-0.5,-0.45,-0.4,-0.35,-0.3,-0.25,-0.2,-0.15,-0.1,-0.05,0,0.05,0.1,0.15,0.2,0.25,0.3,0.35,0.4,0.45,0.5,0.55,0.6,0.65,0.7,0.75,0.8,0.85,0.9,0.95,1,1.05,1.1,1.15,1.2,1.25,1.3,1.35,1.4,1.45,1.5,1.55,1.6,1.65,1.7,1.75],
            "labelExpr": "abs(datum.value*4-round(datum.value*4)) < 0.001 ? replace(replace(format(datum.value, '.2f'), '.', ','), '\u2212', '-') : ''",
            "labelFontSize": 26, "labelPadding": 12, "labelFlush": false, "labelOverlap": false, "labelBound": false,
            "domain": true, "domainColor": "black", "domainWidth": 2,
            "ticks": true, "tickColor": "black", "tickWidth": 2, "tickSize": 12,
            "tickDash": {"condition": {"test": "abs(datum.value*4-round(datum.value*4)) < 0.001", "value": [12, 0]}, "value": [6, 40]},
            "grid": true, "gridWidth": 1.2, "gridDash": [2, 3],
            "gridColor": {"condition": {"test": "abs(datum.value*4-round(datum.value*4)) < 0.001", "value": "#bdbdbd"}, "value": "rgba(0,0,0,0)"}}},
        "color": {"field": "s", "type": "nominal",
          "scale": {"domain": ["Cell voltage", "Br-/Br2 half cell potential vs. NHE", "Br-/Br2 redox potential vs. NHE", "H2/H+ half cell potential vs. DHE", "Ecell -(Ecathode-Eanode)"],
                    "range": ["#000000", "#ff2020", "#ffa020", "#2323f0", "#86168c"]},
          "legend": {"orient": "none", "legendX": 856, "legendY": -14, "title": null, "padding": 0,
            "symbolType": "M-3,0H3", "symbolSize": 625, "symbolStrokeWidth": 2, "symbolOffset": 17.5,
            "labelFontSize": 33, "labelFont": "Liberation Sans", "labelColor": "black", "labelOffset": 29, "labelLimit": 800,
            "rowPadding": 7.5}},
        "strokeWidth": {"field": "s", "type": "nominal",
          "scale": {"domain": ["Cell voltage", "Br-/Br2 half cell potential vs. NHE", "Br-/Br2 redox potential vs. NHE", "H2/H+ half cell potential vs. DHE", "Ecell -(Ecathode-Eanode)"],
                    "range": [1.3, 2.2, 2.0, 1.4, 1.6]},
          "legend": null}
      }
    },
    {
      "data": {"name": "socticks"},
      "mark": {"type": "rule", "color": "#ff2020", "strokeWidth": 3},
      "encoding": {
        "x": {"field": "t", "type": "quantitative", "axis": null},
        "y": {"datum": -0.5, "type": "quantitative", "axis": null},
        "y2": {"datum": -0.455}
      }
    },
    {
      "data": {"name": "soclabels"},
      "mark": {"type": "text", "color": "#f02828", "fontSize": 25, "align": "left", "baseline": "middle", "font": "Liberation Sans"},
      "encoding": {
        "x": {"field": "t", "type": "quantitative", "axis": null},
        "y": {"field": "v", "type": "quantitative", "axis": null},
        "text": {"field": "label"}
      }
    },
    {
      "data": {"name": "rotlabel"},
      "mark": {"type": "text", "color": "#f02828", "fontSize": 24, "align": "center", "baseline": "middle", "angle": 270, "font": "Liberation Sans"},
      "encoding": {
        "x": {"field": "t", "type": "quantitative", "axis": null},
        "y": {"field": "v", "type": "quantitative", "axis": null},
        "text": {"field": "label"}
      }
    },
    {
      "data": {"name": "arrows"},
      "mark": {"type": "rule", "color": "black", "strokeWidth": 1.2},
      "encoding": {
        "x": {"field": "x1", "type": "quantitative", "axis": null},
        "y": {"field": "y1", "type": "quantitative", "axis": null},
        "x2": {"field": "x2"},
        "y2": {"field": "y2"}
      }
    },
    {
      "data": {"name": "arrows"},
      "mark": {"type": "point", "shape": "triangle-right", "filled": true, "color": "black", "size": 110, "opacity": 1},
      "encoding": {
        "x": {"field": "x2", "type": "quantitative", "axis": null},
        "y": {"field": "y2", "type": "quantitative", "axis": null},
        "angle": {"field": "ang", "type": "quantitative", "scale": null}
      }
    },
    {
      "data": {"name": "ablabels"},
      "mark": {"type": "text", "color": "black", "fontSize": 32, "align": "center", "baseline": "middle", "font": "Liberation Sans"},
      "encoding": {
        "x": {"field": "t", "type": "quantitative",
          "axis": {"orient": "top", "title": null, "labels": false, "grid": false, "domain": true, "domainColor": "black", "domainWidth": 2,
            "values": [0,2.5,5,7.5,10,12.5,15,17.5,20,22.5,25,27.5,30,32.5,35,37.5,40],
            "ticks": true, "tickColor": "black", "tickWidth": 2, "tickSize": 12,
            "tickDash": {"condition": {"test": "datum.value % 5 === 0", "value": [12, 0]}, "value": [6, 40]}}},
        "y": {"field": "v", "type": "quantitative",
          "axis": {"orient": "right", "title": null, "labels": false, "grid": false, "domain": true, "domainColor": "black", "domainWidth": 2,
            "values": [-0.5,-0.45,-0.4,-0.35,-0.3,-0.25,-0.2,-0.15,-0.1,-0.05,0,0.05,0.1,0.15,0.2,0.25,0.3,0.35,0.4,0.45,0.5,0.55,0.6,0.65,0.7,0.75,0.8,0.85,0.9,0.95,1,1.05,1.1,1.15,1.2,1.25,1.3,1.35,1.4,1.45,1.5,1.55,1.6,1.65,1.7,1.75],
            "ticks": true, "tickColor": "black", "tickWidth": 2, "tickSize": 12,
            "tickDash": {"condition": {"test": "abs(datum.value*4-round(datum.value*4)) < 0.001", "value": [12, 0]}, "value": [6, 40]}}},
        "text": {"field": "label"}
      }
    },
    {
      "data": {"name": "diagtext"},
      "mark": {"type": "text", "color": "black", "fontSize": 30, "align": "left", "baseline": "middle", "font": "Liberation Sans"},
      "encoding": {
        "x": {"field": "t", "type": "quantitative", "axis": null},
        "y": {"field": "v", "type": "quantitative", "axis": null},
        "text": {"field": "label"}
      }
    },
    {
      "data": {"name": "diagvlines"},
      "mark": {"type": "rule", "color": "#8a8a8a", "strokeWidth": 1.5},
      "encoding": {
        "x": {"field": "t", "type": "quantitative", "axis": null},
        "y": {"field": "v1", "type": "quantitative", "axis": null},
        "y2": {"field": "v2"}
      }
    },
    {
      "data": {"name": "diagarrows"},
      "mark": {"type": "rule", "color": "#6a6a6a", "strokeWidth": 1.5},
      "encoding": {
        "x": {"field": "x1", "type": "quantitative", "axis": null},
        "x2": {"field": "x2"},
        "y": {"field": "y", "type": "quantitative", "axis": null}
      }
    },
    {
      "data": {"name": "diagarrows"},
      "mark": {"type": "point", "shape": "triangle-right", "filled": true, "color": "black", "size": 90, "opacity": 1},
      "encoding": {
        "x": {"field": "hx", "type": "quantitative", "axis": null},
        "y": {"field": "y", "type": "quantitative", "axis": null},
        "angle": {"field": "ang", "type": "quantitative", "scale": null}
      }
    },
    {
      "data": {"name": "stray"},
      "mark": {"type": "rule", "color": "#e06060", "strokeWidth": 1},
      "encoding": {
        "x": {"field": "x1", "type": "quantitative", "axis": null},
        "y": {"field": "y1", "type": "quantitative", "axis": null},
        "x2": {"field": "x2"},
        "y2": {"field": "y2"}
      }
    }
  ]
}
